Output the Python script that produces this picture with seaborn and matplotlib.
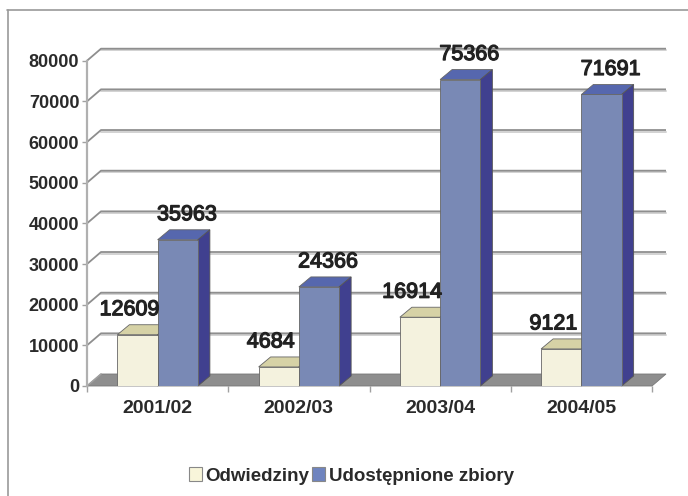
import matplotlib
matplotlib.use("Agg")
import matplotlib.pyplot as plt
import matplotlib.patheffects as pe
import seaborn as sns
import pandas as pd
from matplotlib.patches import Polygon, Patch
from matplotlib.lines import Line2D

categories = ['2001/02', '2002/03', '2003/04', '2004/05']
odwiedziny = [12609, 4684, 16914, 9121]
zbiory = [35963, 24366, 75366, 71691]
series = ['Odwiedziny', 'Udostępnione zbiory']
yticks = [0, 10000, 20000, 30000, 40000, 50000, 60000, 70000, 80000]

df = pd.DataFrame({
    'rok': categories * 2,
    'wartosc': odwiedziny + zbiory,
    'seria': [series[0]] * len(categories) + [series[1]] * len(categories),
})

front = {series[0]: '#F8F5DA', series[1]: '#6F84BF'}
top = {series[0]: '#D6D2A6', series[1]: '#5667AE'}
side = {series[0]: '#B8B38C', series[1]: '#40408F'}

sns.set_style('white')
plt.rcParams['font.family'] = ['Liberation Sans', 'DejaVu Sans']

W, H = 688, 496
fig = plt.figure(figsize=(W / 100, H / 100), dpi=100)
x0, x1, y0, y1 = 87, 652, 386, 60.7
ax = fig.add_axes([x0 / W, (H - y0) / H, (x1 - x0) / W, (y0 - y1) / H])

sns.barplot(data=df, x='rok', y='wartosc', hue='seria', hue_order=series,
            order=categories, palette=[front[s] for s in series],
            width=0.57, dodge=True, ax=ax, edgecolor='#666666', linewidth=0.6,
            legend=False, zorder=3)

ax.set_xlim(-0.5, len(categories) - 0.5)
ax.set_ylim(0, 80000)
xpp = (len(categories)) / (x1 - x0)   # data units per pixel x
ypp = 80000 / (y0 - y1)               # data units per pixel y

wdx, wdy = 14 * xpp, 12 * ypp   # wall depth
bdx, bdy = 12 * xpp, 10 * ypp   # bar depth

xl, xr = ax.get_xlim()
# floor
ax.add_patch(Polygon([(xl, 0), (xr, 0), (xr + wdx, wdy), (xl + wdx, wdy)],
                     closed=True, facecolor='#8E8E8E', edgecolor='#777777',
                     lw=0.6, clip_on=False, zorder=1))
# back wall grid lines
for v in yticks[1:]:
    ax.plot([xl + wdx, xr + wdx], [v + wdy - 1.8 * ypp, v + wdy - 1.8 * ypp],
            color='#D2D2D2', lw=1.4, clip_on=False, zorder=0.4)
    ax.plot([xl, xl + wdx, xr + wdx], [v, v + wdy, v + wdy], color='#8E8E8E',
            lw=1.3, clip_on=False, zorder=0.5, solid_capstyle='butt')
ax.plot([xl, xl + wdx], [0, wdy], color='#A0A0A0', lw=1.2, clip_on=False, zorder=1.2)

# 3D faces and labels
n = len(categories)
for i, p in enumerate(ax.patches[:2 * n]):
    s = series[i // n]
    x, w, h = p.get_x(), p.get_width(), p.get_height()
    p.set_zorder(3)
    ax.add_patch(Polygon([(x, h), (x + w, h), (x + w + bdx, h + bdy), (x + bdx, h + bdy)],
                         closed=True, facecolor=top[s], edgecolor='#666666', lw=0.6,
                         clip_on=False, zorder=2))
    ax.add_patch(Polygon([(x + w, 0), (x + w + bdx, bdy), (x + w + bdx, h + bdy), (x + w, h)],
                         closed=True, facecolor=side[s], edgecolor='#555555', lw=0.6,
                         clip_on=False, zorder=2))
    dxo = -8 if s == series[0] else 9
    ax.annotate(f'{int(round(h))}', (x + w / 2, h), xytext=(dxo * 0.72, 25 * 0.72),
                textcoords='offset points', ha='center', va='center',
                fontsize=15.5, color='#222222', zorder=5, annotation_clip=False,
                path_effects=[pe.withStroke(linewidth=0.9, foreground='#222222')])

# axes styling
for sp in ['top', 'right', 'bottom']:
    ax.spines[sp].set_visible(False)
ax.spines['left'].set_color('#B0B0B0')
ax.spines['left'].set_linewidth(1.6)
ax.set_yticks(yticks)
ax.set_yticklabels([str(v) for v in yticks], fontsize=13, fontweight='bold', color='#2A2A2A')
ax.tick_params(axis='y', length=3.5, width=1, color='#A0A0A0', pad=2, left=True)
ax.set_xticks(range(n))
ax.set_xticklabels(categories, fontsize=14, fontweight='bold', color='#2A2A2A')
ax.tick_params(axis='x', which='major', length=0, pad=10)
ax.set_xticks([k - 0.5 for k in range(n + 1)], minor=True)
ax.tick_params(axis='x', which='minor', length=4.5, width=1, color='#A0A0A0',
               direction='out', bottom=True)
ax.set_xlabel('')
ax.set_ylabel('')
ax.set_facecolor('none')
ax.grid(False)

# legend
handles = [Patch(facecolor=front[s], edgecolor='#888888', lw=0.8, label=s) for s in series]
leg = fig.legend(handles=handles, loc='center', bbox_to_anchor=(351.5 / W, 20 / H),
                 ncol=2, frameon=False, handlelength=0.7, handleheight=0.7,
                 handletextpad=0.2, columnspacing=0.15,
                 prop={'size': 13.5, 'weight': 'bold'})
for t in leg.get_texts():
    t.set_color('#2A2A2A')

# outer frame
fig.add_artist(Line2D([7.5 / W, 7.5 / W], [0, (H - 10) / H], transform=fig.transFigure,
                      color='#9A9A9A', lw=1.2))
fig.add_artist(Line2D([7 / W, 1], [(H - 10) / H, (H - 10) / H], transform=fig.transFigure,
                      color='#9A9A9A', lw=1.2))

fig.savefig('out.png', dpi=100)
